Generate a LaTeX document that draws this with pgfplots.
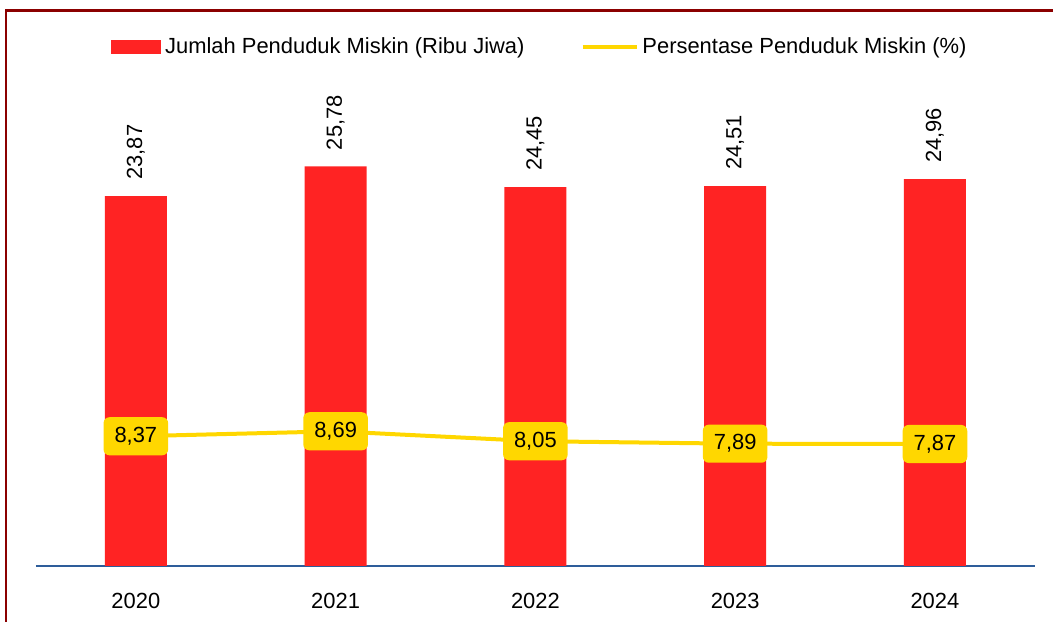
\documentclass[border=0pt]{standalone}
\usepackage{fontspec}
\setmainfont{Liberation Sans}
\usepackage{pgfplots}
\pgfplotsset{compat=1.18}

\definecolor{barred}{HTML}{FF2323}
\definecolor{lineyel}{HTML}{FFD700}
\definecolor{axblue}{HTML}{2E5D9A}
\definecolor{framered}{HTML}{8B0000}

\newcommand{\lblfont}{\fontsize{11}{13}\selectfont}

\begin{document}
\begin{tikzpicture}
\begin{axis}[
    scale only axis,
    width=499.5bp, height=248bp,
    xmin=-0.5, xmax=4.5, ymin=0, ymax=32,
    axis x line=bottom, axis y line=none,
    x axis line style={-, draw=axblue, line width=1.2bp},
    xtick={0,1,2,3,4},
    xticklabels={2020,2021,2022,2023,2024},
    xtick style={draw=none},
    xticklabel style={font=\lblfont, yshift=-8bp},
    clip=false,
    /pgf/number format/use comma,
    /pgf/number format/fixed,
    /pgf/number format/fixed zerofill,
    /pgf/number format/precision=2,
    /pgf/number format/assume math mode=true,
    legend columns=-1,
    legend style={at={(0.5055,1.046)}, anchor=center, draw=none, fill=none,
      font=\lblfont,
      /tikz/every even column/.append style={column sep=26bp}},
    ]
\addplot[ybar, bar width=31bp, fill=barred, draw=none,
    nodes near coords,
    nodes near coords align={anchor=west},
    every node near coord/.append style={yshift=8bp, rotate=90, anchor=west,
      inner sep=0pt, font=\lblfont, text=black},
    legend image code/.code={\fill[barred] (0bp,-3.5bp) rectangle (25bp,3.5bp);}]
  coordinates {(0,23.87) (1,25.78) (2,24.45) (3,24.51) (4,24.96)};
\addlegendentry{Jumlah Penduduk Miskin (Ribu Jiwa)}
\addplot[sharp plot, draw=lineyel, line width=2bp, mark=none,
    nodes near coords,
    nodes near coords align={anchor=center},
    every node near coord/.append style={anchor=center, fill=lineyel,
      rounded corners=3bp, inner xsep=5.5bp, inner ysep=5bp,
      text=black, font=\lblfont},
    legend image code/.code={\draw[lineyel, line width=2bp] (0bp,0bp) -- (27bp,0bp);}]
  coordinates {(0,8.37) (1,8.69) (2,8.05) (3,7.89) (4,7.87)};
\addlegendentry{Persentase Penduduk Miskin (\%)}
% page frame
\draw[framered, line width=1.2bp] (axis cs:4.59,35.85) -- (axis cs:-0.65,35.85) -- (axis cs:-0.65,-3.61);
\path (axis cs:-0.68,-3.613) rectangle (axis cs:4.59,36.52);
\end{axis}
\end{tikzpicture}
\end{document}
